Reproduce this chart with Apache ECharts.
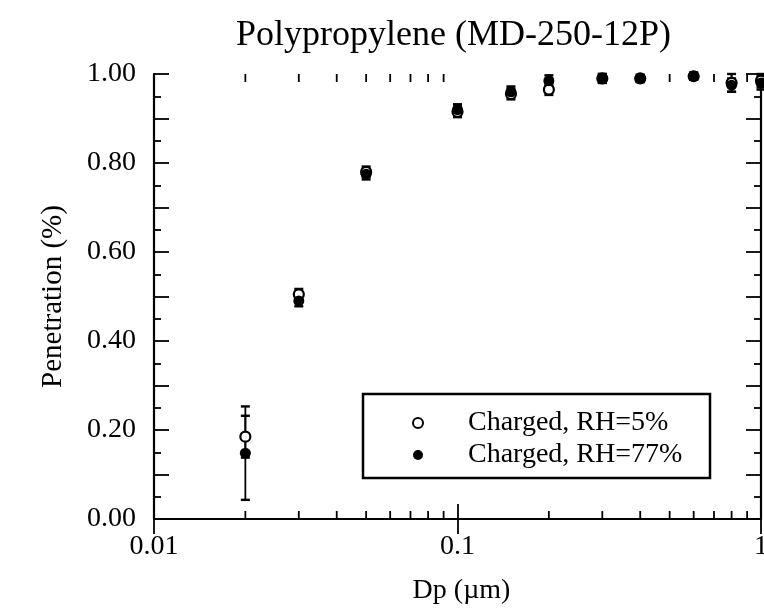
<!DOCTYPE html>
<html>
<head>
<meta charset="utf-8">
<script src="https://cdn.jsdelivr.net/npm/echarts@6/dist/echarts.min.js"></script>
<style>
  html, body { margin: 0; padding: 0; background: #fff; }
  #chart { width: 764px; height: 611px; }
</style>
</head>
<body>
<div id="chart"></div>
<script>
// Particle diameter (µm) and measured penetration with error half-widths
const dp      = [0.02, 0.03, 0.05, 0.1, 0.15, 0.2, 0.3, 0.4, 0.6, 0.8, 1.0];
const pen5    = [0.185, 0.505, 0.78, 0.915, 0.955, 0.965, 0.99, 0.99, 0.995, 0.98, 0.985];
const err5    = [0.047, 0.012, 0.012, 0.012, 0.012, 0.012, 0.01, 0.008, 0.008, 0.02, 0.015];
const pen77   = [0.148, 0.49, 0.775, 0.92, 0.96, 0.985, 0.99, 0.99, 0.995, 0.975, 0.98];
const err77   = [0.105, 0.012, 0.012, 0.012, 0.012, 0.012, 0.01, 0.008, 0.008, 0.015, 0.015];
const seriesNames = ['Charged, RH=5%', 'Charged, RH=77%'];
// Log-axis minor tick positions (2..9 within each decade)
const minorTickValues = [0.02, 0.03, 0.04, 0.05, 0.06, 0.07, 0.08, 0.09,
                         0.2, 0.3, 0.4, 0.5, 0.6, 0.7, 0.8, 0.9];

const FONT = '"Liberation Serif", "Times New Roman", serif';
const chart = echarts.init(document.getElementById('chart'), null, { renderer: 'canvas' });

function errorBars(vals, errs) {
  return dp.map((x, i) => [x, vals[i], errs[i]]);
}

function renderErr(params, api) {
  const x = api.value(0), y = api.value(1), e = api.value(2);
  const top = api.coord([x, y + e]);
  const bot = api.coord([x, y - e]);
  const hw = 4.5;
  return {
    type: 'group',
    children: [
      { type: 'line', shape: { x1: top[0], y1: top[1], x2: bot[0], y2: bot[1] }, style: { stroke: '#000', lineWidth: 1.8 } },
      { type: 'line', shape: { x1: top[0] - hw, y1: top[1], x2: top[0] + hw, y2: top[1] }, style: { stroke: '#000', lineWidth: 2.4 } },
      { type: 'line', shape: { x1: bot[0] - hw, y1: bot[1], x2: bot[0] + hw, y2: bot[1] }, style: { stroke: '#000', lineWidth: 2.4 } }
    ]
  };
}

// Short ticks at 2..9 of each decade on the bottom and top frame edges
function renderMinorTick(params, api) {
  const v = api.value(0);
  const cs = params.coordSys;
  const x = api.coord([v, 0.5])[0];
  const yBottom = cs.y + cs.height;
  const yTop = cs.y;
  const len = 8;
  const st = { stroke: '#000', lineWidth: 1.8 };
  return {
    type: 'group',
    children: [
      { type: 'line', shape: { x1: x, y1: yBottom, x2: x, y2: yBottom - len }, style: st },
      { type: 'line', shape: { x1: x, y1: yTop, x2: x, y2: yTop + len }, style: st }
    ]
  };
}

const yLabel = v => (Math.round(v * 10) % 2 === 0 ? v.toFixed(2) : '');

const axisLineStyle = { color: '#000', width: 2.2 };
const majorTick = { color: '#000', width: 1.8 };

const option = {
  backgroundColor: '#fff',
  animation: false,
  textStyle: { fontFamily: FONT, color: '#000' },
  title: {
    text: 'Polypropylene (MD-250-12P)',
    left: 231,
    top: 13,
    textStyle: { fontFamily: FONT, fontSize: 36, fontWeight: 'normal', color: '#000' }
  },
  grid: { left: 154, right: 3, top: 74, bottom: 92, containLabel: false, outerBoundsMode: 'none' },
  xAxis: [
    {
      type: 'log', logBase: 10, min: 0.01, max: 1,
      position: 'bottom',
      name: 'Dp (µm)', nameLocation: 'middle', nameGap: 58,
      nameTextStyle: { fontFamily: FONT, fontSize: 28, color: '#000', padding: [0, 0, 0, 8] },
      axisLine: { lineStyle: axisLineStyle },
      axisTick: { inside: true, length: 15, lineStyle: majorTick },
      axisLabel: {
        margin: 14, fontFamily: FONT, fontSize: 28, color: '#000',
        formatter: v => (v >= 1 ? '1' : String(+v.toPrecision(1)))
      },
      splitLine: { show: false }
    },
    {
      type: 'log', logBase: 10, min: 0.01, max: 1,
      position: 'top',
      axisLine: { lineStyle: axisLineStyle },
      axisTick: { inside: true, length: 15, lineStyle: majorTick },
      axisLabel: { show: false },
      splitLine: { show: false }
    }
  ],
  yAxis: [
    {
      type: 'value', min: 0, max: 1, interval: 0.1,
      position: 'left',
      name: 'Penetration (%)', nameLocation: 'middle', nameGap: 86, nameRotate: 90,
      nameTextStyle: { fontFamily: FONT, fontSize: 29, color: '#000' },
      axisLine: { show: true, lineStyle: axisLineStyle },
      axisTick: { show: true, inside: true, length: 15, lineStyle: majorTick },
      minorTick: { show: true, splitNumber: 2, length: 7, lineStyle: majorTick },
      axisLabel: { margin: 18, fontFamily: FONT, fontSize: 28, color: '#000', formatter: yLabel },
      splitLine: { show: false }
    },
    {
      type: 'value', min: 0, max: 1, interval: 0.1,
      position: 'right',
      axisLine: { show: true, lineStyle: axisLineStyle },
      axisTick: { show: true, inside: true, length: 15, lineStyle: majorTick },
      minorTick: { show: true, splitNumber: 2, length: 7, lineStyle: majorTick },
      axisLabel: { show: false },
      splitLine: { show: false }
    }
  ],
  legend: {
    data: seriesNames,
    orient: 'vertical',
    left: 412,
    top: 409,
    itemWidth: 10,
    itemHeight: 10,
    itemGap: 4,
    padding: 0,
    textStyle: { fontFamily: FONT, fontSize: 28, color: '#000', lineHeight: 26, padding: [0, 0, 0, 40] }
  },
  graphic: [
    {
      type: 'rect',
      shape: { x: 363, y: 394, width: 347, height: 84 },
      style: { fill: 'none', stroke: '#000', lineWidth: 2.5 },
      z: 10
    }
  ],
  series: [
    {
      name: 'minor ticks',
      type: 'custom',
      xAxisIndex: 0, yAxisIndex: 0,
      renderItem: renderMinorTick,
      encode: { x: 0, y: 1 },
      data: minorTickValues.map(v => [v, 0.5]),
      clip: false,
      silent: true,
      z: 1
    },
    {
      name: 'err5',
      type: 'custom',
      renderItem: renderErr,
      encode: { x: 0, y: 1 },
      data: errorBars(pen5, err5),
      clip: false,
      z: 2
    },
    {
      name: 'err77',
      type: 'custom',
      renderItem: renderErr,
      encode: { x: 0, y: 1 },
      data: errorBars(pen77, err77),
      clip: false,
      z: 2
    },
    {
      name: seriesNames[0],
      type: 'scatter',
      symbol: 'circle',
      symbolSize: 10,
      itemStyle: { color: '#fff', borderColor: '#000', borderWidth: 2.2, opacity: 1 },
      data: dp.map((x, i) => [x, pen5[i]]),
      clip: false,
      z: 3
    },
    {
      name: seriesNames[1],
      type: 'scatter',
      symbol: 'circle',
      symbolSize: 11,
      itemStyle: { color: '#000', borderColor: '#000', borderWidth: 0, opacity: 1 },
      data: dp.map((x, i) => [x, pen77[i]]),
      clip: false,
      z: 4
    }
  ]
};

chart.setOption(option);
</script>
</body>
</html>
